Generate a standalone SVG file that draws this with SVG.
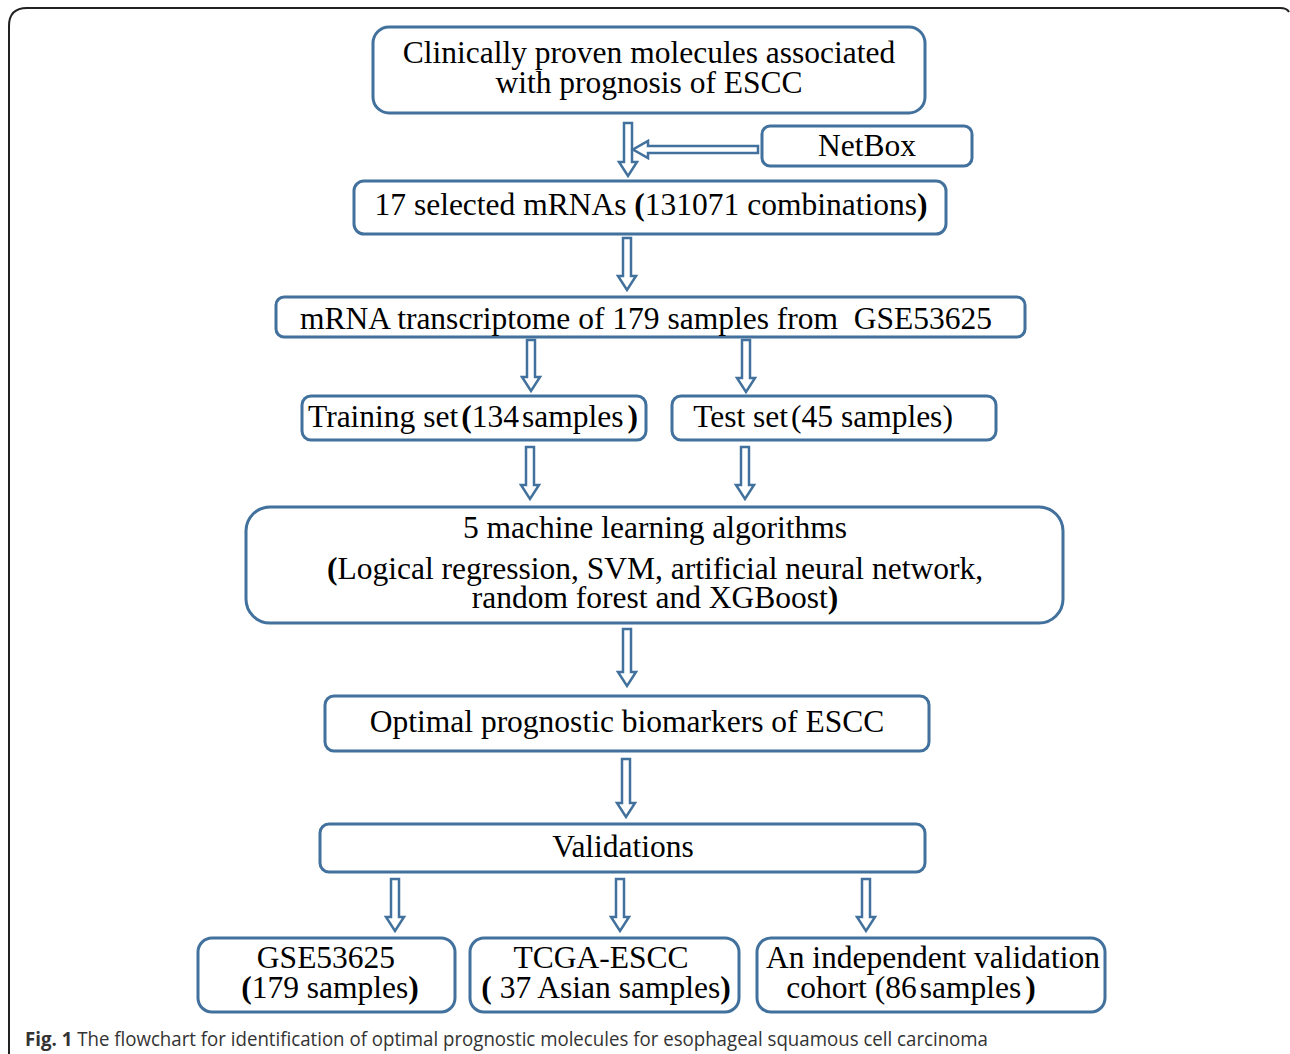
<svg xmlns="http://www.w3.org/2000/svg" width="1290" height="1054" viewBox="0 0 1290 1054">
<style>
.box{fill:#fff;stroke:#41719c;stroke-width:3}
.t{font-family:"Liberation Serif","Times New Roman",serif;font-size:31.5px;fill:#000;text-anchor:middle}
.b{font-weight:bold}
.arr{fill:#fff;stroke:#41719c;stroke-width:2.5;stroke-linejoin:miter}
.cap{font-family:"Open Sans","Liberation Sans",sans-serif;font-size:20px;fill:#333}
</style>
<rect x="0" y="0" width="1290" height="1054" fill="#fff"/>
<path d="M9,1054 L9,26 Q9,8 27,8 L1280,8 Q1287,8 1289,12" fill="none" stroke="#222" stroke-width="2"/>
<g id="connectors">
<path class="arr" d="M624,123 L632,123 L632,162 L637,162 L628,176 L619,162 L624,162 Z"/>
<path class="arr" d="M758,146 L758,153 L648,153 L648,158 L633,149.5 L648,141 L648,146 Z"/>
<path class="arr" d="M623,238 L631,238 L631,276 L636,276 L627,290 L618,276 L623,276 Z"/>
<path class="arr" d="M527,340 L535,340 L535,377 L540,377 L531,391 L522,377 L527,377 Z"/>
<path class="arr" d="M742,340 L750,340 L750,378 L755,378 L746,392 L737,378 L742,378 Z"/>
<path class="arr" d="M526,447 L534,447 L534,485 L539,485 L530,499 L521,485 L526,485 Z"/>
<path class="arr" d="M741,447 L749,447 L749,485 L754,485 L745,499 L736,485 L741,485 Z"/>
<path class="arr" d="M623,629 L631,629 L631,672 L636,672 L627,686 L618,672 L623,672 Z"/>
<path class="arr" d="M622,759 L630,759 L630,803 L635,803 L626,817 L617,803 L622,803 Z"/>
<path class="arr" d="M391,879 L399,879 L399,917 L404,917 L395,931 L386,917 L391,917 Z"/>
<path class="arr" d="M616,879 L624,879 L624,917 L629,917 L620,931 L611,917 L616,917 Z"/>
<path class="arr" d="M862,879 L870,879 L870,917 L875,917 L866,931 L857,917 L862,917 Z"/>
</g>
<g id="n1">
<rect class="box" x="373" y="27" width="552" height="86" rx="16"/>
<text class="t" x="649" y="63">Clinically proven molecules associated</text>
<text class="t" x="649" y="93">with prognosis of ESCC</text>
</g>
<g id="netbox">
<rect class="box" x="762" y="126" width="210" height="40" rx="8"/>
<text class="t" x="867" y="156">NetBox</text>
</g>
<g id="n2">
<rect class="box" x="354" y="181" width="592" height="53" rx="10"/>
<text class="t" x="651" y="215">17 selected mRNAs <tspan class="b">(</tspan>131071 combinations<tspan class="b">)</tspan></text>
</g>
<g id="n3">
<rect class="box" x="276" y="297" width="749" height="40" rx="8"/>
<text class="t" x="300" y="329" style="text-anchor:start" xml:space="preserve">mRNA transcriptome of 179 samples from  GSE53625</text>
</g>
<g id="train">
<rect class="box" x="302" y="396" width="344" height="44" rx="9"/>
<text class="t" x="473" y="427">Training set<tspan class="b" dx="3">(</tspan>134<tspan dx="3">samples</tspan><tspan class="b" dx="4">)</tspan></text>
</g>
<g id="test">
<rect class="box" x="672" y="396" width="324" height="44" rx="9"/>
<text class="t" x="823" y="427">Test set<tspan dx="3">(45 samples)</tspan></text>
</g>
<g id="ml">
<rect class="box" x="246" y="507" width="817" height="116" rx="24"/>
<text class="t" x="655" y="538">5 machine learning algorithms</text>
<text class="t" x="655" y="579"><tspan class="b">(</tspan>Logical regression, SVM, artificial neural network,</text>
<text class="t" x="655" y="608">random forest and XGBoost<tspan class="b">)</tspan></text>
</g>
<g id="optimal">
<rect class="box" x="325" y="696" width="604" height="55" rx="9"/>
<text class="t" x="627" y="732">Optimal prognostic biomarkers of ESCC</text>
</g>
<g id="validations">
<rect class="box" x="320" y="824" width="605" height="48" rx="9"/>
<text class="t" x="623" y="857">Validations</text>
</g>
<g id="gse">
<rect class="box" x="198" y="938" width="257" height="74" rx="14"/>
<text class="t" x="326" y="968">GSE53625</text>
<text class="t" x="330" y="998"><tspan class="b">(</tspan>179 samples<tspan class="b">)</tspan></text>
</g>
<g id="tcga">
<rect class="box" x="470" y="938" width="269" height="74" rx="14"/>
<text class="t" x="601" y="968">TCGA-ESCC</text>
<text class="t" x="606" y="998"><tspan class="b">(</tspan> 37 Asian samples<tspan class="b">)</tspan></text>
</g>
<g id="indep">
<rect class="box" x="757" y="938" width="348" height="74" rx="14"/>
<text class="t" x="933" y="968">An independent validation</text>
<text class="t" x="911" y="998">cohort (86<tspan dx="3">samples</tspan><tspan class="b" dx="4">)</tspan></text>
</g>
<text class="cap" x="25" y="1046" textLength="963" lengthAdjust="spacingAndGlyphs"><tspan font-weight="bold">Fig. 1</tspan> The flowchart for identification of optimal prognostic molecules for esophageal squamous cell carcinoma</text>
</svg>
